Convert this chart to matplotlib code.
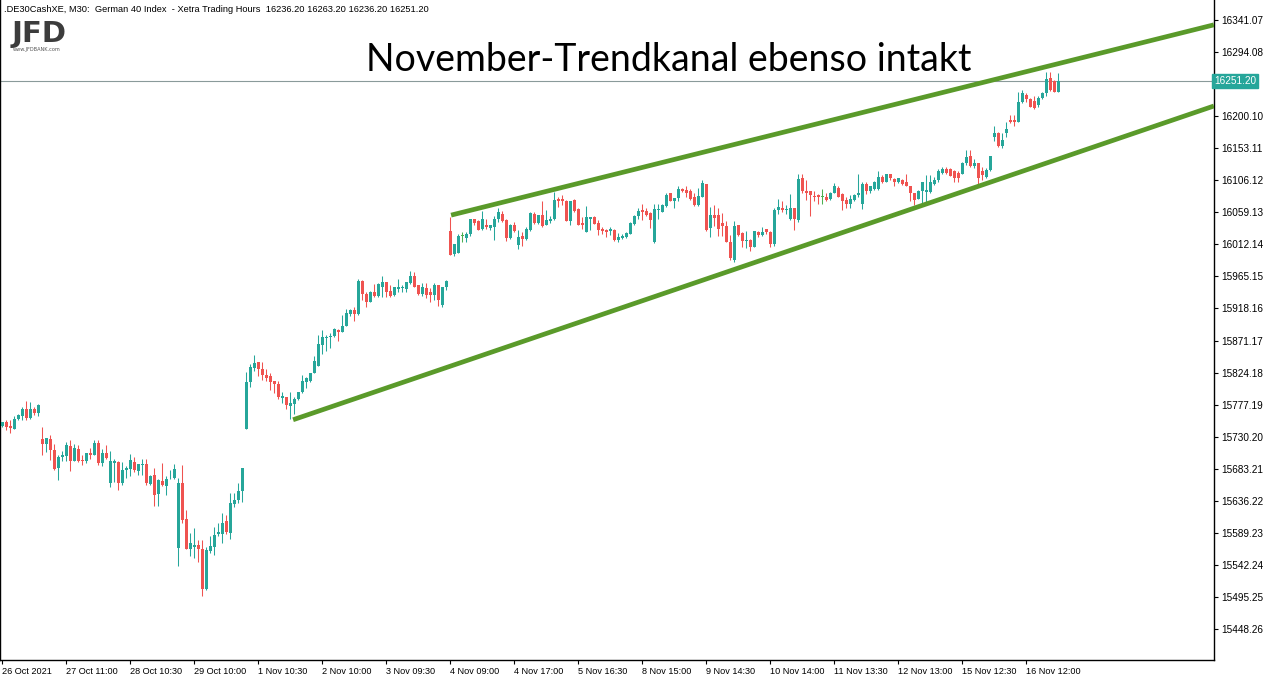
import matplotlib
matplotlib.use("Agg")
import matplotlib.pyplot as plt
import numpy as np

# M30 candles (open, high, low, close)
opens = [15746, 15752, 15746, 15741, 15756, 15760, 15771, 15758, 15771, 15765,
         15727, 15719, 15727, 15711, 15685, 15700, 15702, 15717, 15695, 15712,
         15696, 15694, 15706, 15703, 15721, 15692, 15706, 15663, 15691, 15693,
         15662, 15681, 15683, 15693, 15680, 15688, 15690, 15661, 15674, 15646,
         15665, 15658, 15669, 15669, 15567, 15662, 15610, 15565, 15568, 15571,
         15565, 15507, 15562, 15568, 15587, 15588, 15606, 15589, 15631, 15637,
         15650, 15742, 15810, 15831, 15839, 15829, 15821, 15819, 15812, 15807,
         15787, 15789, 15775, 15778, 15785, 15795, 15810, 15812, 15824, 15834,
         15865, 15875, 15876, 15878, 15887, 15884, 15892, 15910, 15916, 15910,
         15959, 15939, 15927, 15943, 15936, 15950, 15957, 15944, 15938, 15946,
         15948, 15947, 15956, 15966, 15953, 15940, 15948, 15943, 15938, 15953,
         15923, 15949, 16032, 15998, 16000, 16025, 16022, 16028, 16049, 16047,
         16034, 16041, 16036, 16037, 16049, 16057, 16048, 16021, 16041, 16011,
         16025, 16020, 16033, 16056, 16043, 16055, 16041, 16047, 16049, 16079,
         16079, 16076, 16047, 16077, 16064, 16044, 16031, 16049, 16052, 16044,
         16035, 16033, 16032, 16033, 16019, 16022, 16023, 16028, 16042, 16054,
         16063, 16061, 16058, 16016, 16063, 16060, 16068, 16088, 16076, 16080,
         16093, 16092, 16090, 16081, 16070, 16082, 16101, 16036, 16055, 16055,
         16043, 16039, 16016, 15989, 16040, 16029, 16017, 16018, 16009, 16031,
         16026, 16035, 16030, 16012, 16062, 16066, 16062, 16049, 16066, 16048,
         16110, 16091, 16090, 16083, 16084, 16082, 16081, 16078, 16088, 16095,
         16086, 16077, 16072, 16077, 16084, 16071, 16101, 16091, 16093, 16093,
         16111, 16104, 16115, 16108, 16103, 16107, 16103, 16097, 16087, 16079,
         16091, 16089, 16089, 16101, 16106, 16117, 16122, 16122, 16119, 16117,
         16116, 16131, 16141, 16127, 16131, 16120, 16111, 16121, 16169, 16176,
         16156, 16175, 16194, 16194, 16192, 16221, 16231, 16225, 16222, 16216,
         16226, 16234, 16256, 16252, 16236.2]
highs = [15752, 15754, 15755, 15760, 15764, 15774, 15782, 15781, 15773, 15778,
         15744, 15728, 15733, 15720, 15703, 15709, 15723, 15725, 15719, 15718,
         15703, 15706, 15713, 15725, 15726, 15712, 15718, 15709, 15697, 15695,
         15693, 15687, 15705, 15701, 15690, 15697, 15697, 15674, 15684, 15668,
         15692, 15673, 15681, 15690, 15670, 15689, 15623, 15589, 15596, 15579,
         15579, 15569, 15584, 15598, 15603, 15618, 15615, 15647, 15647, 15662,
         15685, 15825, 15837, 15850, 15840, 15839, 15829, 15824, 15812, 15812,
         15795, 15789, 15795, 15789, 15796, 15821, 15818, 15824, 15848, 15879,
         15887, 15879, 15882, 15889, 15888, 15909, 15917, 15918, 15920, 15962,
         15960, 15943, 15944, 15954, 15955, 15966, 15957, 15953, 15949, 15962,
         15953, 15957, 15973, 15971, 15953, 15956, 15956, 15948, 15955, 15953,
         15950, 15960, 16052, 16013, 16027, 16030, 16030, 16050, 16050, 16048,
         16061, 16050, 16041, 16053, 16065, 16061, 16049, 16042, 16045, 16033,
         16031, 16037, 16059, 16059, 16055, 16075, 16063, 16053, 16089, 16082,
         16085, 16077, 16076, 16078, 16065, 16052, 16068, 16052, 16053, 16048,
         16038, 16034, 16037, 16034, 16029, 16027, 16031, 16045, 16055, 16066,
         16071, 16065, 16060, 16072, 16072, 16072, 16088, 16088, 16080, 16097,
         16095, 16097, 16093, 16087, 16095, 16106, 16101, 16067, 16070, 16065,
         16058, 16046, 16026, 16046, 16041, 16031, 16032, 16020, 16032, 16032,
         16038, 16035, 16032, 16065, 16078, 16075, 16070, 16086, 16066, 16116,
         16116, 16107, 16090, 16090, 16086, 16093, 16088, 16089, 16102, 16097,
         16087, 16081, 16085, 16086, 16116, 16104, 16103, 16098, 16105, 16120,
         16114, 16116, 16116, 16109, 16110, 16108, 16115, 16098, 16088, 16092,
         16103, 16114, 16114, 16111, 16122, 16125, 16126, 16124, 16121, 16119,
         16133, 16150, 16150, 16138, 16132, 16126, 16124, 16142, 16185, 16177,
         16176, 16191, 16202, 16202, 16235, 16239, 16234, 16226, 16229, 16229,
         16236, 16265, 16265, 16253, 16263.2]
lows = [15744, 15740, 15736, 15741, 15755, 15754, 15755, 15756, 15762, 15761,
        15703, 15708, 15696, 15681, 15667, 15694, 15694, 15680, 15694, 15693,
        15689, 15692, 15698, 15703, 15689, 15687, 15697, 15657, 15664, 15652,
        15659, 15669, 15673, 15678, 15674, 15674, 15659, 15659, 15628, 15628,
        15658, 15644, 15668, 15668, 15541, 15604, 15565, 15556, 15552, 15547,
        15496, 15505, 15559, 15557, 15584, 15574, 15587, 15580, 15627, 15633,
        15635, 15741, 15803, 15826, 15819, 15813, 15812, 15798, 15794, 15785,
        15780, 15771, 15756, 15764, 15784, 15794, 15802, 15811, 15823, 15834,
        15851, 15856, 15860, 15877, 15871, 15883, 15892, 15907, 15900, 15908,
        15931, 15921, 15927, 15935, 15935, 15935, 15935, 15935, 15937, 15943,
        15943, 15943, 15954, 15950, 15938, 15937, 15934, 15928, 15931, 15922,
        15921, 15945, 15997, 15995, 15999, 16015, 16015, 16025, 16040, 16033,
        16033, 16034, 16033, 16018, 16045, 16045, 16017, 16020, 16031, 16005,
        16010, 16019, 16032, 16042, 16042, 16037, 16041, 16044, 16048, 16067,
        16070, 16047, 16040, 16060, 16041, 16035, 16030, 16033, 16042, 16026,
        16028, 16023, 16026, 16017, 16015, 16020, 16022, 16027, 16041, 16049,
        16048, 16054, 16036, 16014, 16050, 16059, 16067, 16075, 16065, 16076,
        16089, 16081, 16077, 16068, 16069, 16081, 16032, 16023, 16039, 16025,
        16025, 16015, 15989, 15986, 16024, 16009, 16007, 16002, 16008, 16023,
        16025, 16028, 16008, 16010, 16057, 16060, 16057, 16048, 16033, 16045,
        16087, 16077, 16053, 16076, 16071, 16072, 16075, 16077, 16087, 16081,
        16063, 16065, 16065, 16076, 16082, 16064, 16086, 16088, 16092, 16092,
        16102, 16103, 16107, 16098, 16102, 16099, 16098, 16075, 16070, 16078,
        16072, 16072, 16088, 16099, 16104, 16116, 16116, 16112, 16104, 16104,
        16115, 16129, 16126, 16124, 16099, 16107, 16110, 16120, 16163, 16155,
        16154, 16169, 16190, 16185, 16191, 16220, 16221, 16213, 16211, 16214,
        16225, 16229, 16237, 16236, 16236.2]
closes = [15751, 15745, 15743, 15756, 15762, 15771, 15758, 15771, 15765, 15777,
          15719, 15728, 15711, 15683, 15700, 15703, 15718, 15695, 15713, 15694,
          15694, 15706, 15704, 15721, 15691, 15707, 15699, 15694, 15695, 15663,
          15681, 15684, 15696, 15681, 15690, 15690, 15662, 15673, 15645, 15667,
          15659, 15668, 15670, 15683, 15662, 15608, 15566, 15574, 15572, 15565,
          15507, 15564, 15570, 15586, 15591, 15604, 15591, 15633, 15637, 15650,
          15685, 15810, 15833, 15838, 15830, 15820, 15816, 15811, 15807, 15789,
          15790, 15777, 15780, 15785, 15795, 15812, 15816, 15823, 15841, 15866,
          15877, 15877, 15878, 15888, 15884, 15892, 15911, 15916, 15910, 15959,
          15939, 15928, 15943, 15936, 15954, 15957, 15943, 15936, 15949, 15949,
          15949, 15957, 15966, 15950, 15940, 15949, 15938, 15938, 15953, 15931,
          15949, 15959, 15997, 16013, 16025, 16025, 16028, 16049, 16044, 16033,
          16050, 16037, 16040, 16050, 16059, 16046, 16021, 16041, 16032, 16023,
          16020, 16035, 16058, 16043, 16055, 16039, 16048, 16050, 16077, 16075,
          16075, 16047, 16076, 16061, 16041, 16041, 16052, 16052, 16042, 16033,
          16032, 16031, 16035, 16019, 16023, 16025, 16029, 16044, 16054, 16061,
          16059, 16055, 16048, 16064, 16064, 16070, 16085, 16076, 16080, 16093,
          16090, 16087, 16079, 16070, 16083, 16102, 16033, 16055, 16051, 16035,
          16039, 16016, 15992, 16039, 16026, 16017, 16019, 16009, 16032, 16026,
          16031, 16031, 16012, 16063, 16067, 16063, 16064, 16066, 16049, 16108,
          16091, 16088, 16084, 16082, 16081, 16082, 16077, 16088, 16097, 16082,
          16075, 16072, 16078, 16084, 16087, 16101, 16091, 16097, 16104, 16111,
          16103, 16115, 16109, 16103, 16109, 16101, 16098, 16087, 16077, 16091,
          16103, 16092, 16103, 16107, 16120, 16122, 16117, 16113, 16110, 16110,
          16131, 16140, 16127, 16131, 16109, 16114, 16121, 16141, 16176, 16156,
          16165, 16181, 16192, 16192, 16221, 16234, 16225, 16214, 16212, 16226,
          16234, 16254, 16238, 16236, 16251.2]

price_ticks = [16341.07, 16294.08, 16247.09, 16200.10, 16153.11, 16106.12,
               16059.13, 16012.14, 15965.15, 15918.16, 15871.17, 15824.18,
               15777.19, 15730.20, 15683.21, 15636.22, 15589.23, 15542.24,
               15495.25, 15448.26]
date_labels = ["26 Oct 2021", "27 Oct 11:00", "28 Oct 10:30", "29 Oct 10:00",
               "1 Nov 10:30", "2 Nov 10:00", "3 Nov 09:30", "4 Nov 09:00",
               "4 Nov 17:00", "5 Nov 16:30", "8 Nov 15:00", "9 Nov 14:30",
               "10 Nov 14:00", "11 Nov 13:30", "12 Nov 13:00", "15 Nov 12:30",
               "16 Nov 12:00"]
date_label_bars = [0, 16, 32, 48, 64, 80, 96, 112, 128, 144, 160, 176, 192,
                   208, 224, 240, 256]

# trend channel anchors (bar index, price)
upper_bars = [112.2, 302.9]
upper_prices = [16055, 16334]
lower_bars = [72.7, 302.9]
lower_prices = [15755, 16215]

last_price = 16251.20
header = (".DE30CashXE, M30:  German 40 Index  - Xetra Trading Hours  "
          "16236.20 16263.20 16236.20 16251.20")
title = "November-Trendkanal ebenso intakt"

UP = "#26a69a"
DOWN = "#ef5350"
DOJI = "#4caf50"
TREND = "#5a9a2a"

W, H = 1272, 681
fig = plt.figure(figsize=(W / 100, H / 100), dpi=100)
ax = fig.add_axes([0, 1 - 660 / H, 1214 / W, 660 / H])

o = np.array(opens, dtype=float)
c = np.array(closes, dtype=float)
x = np.arange(len(c))
cols = np.where(c > o, UP, np.where(c < o, DOWN, DOJI))

ax.vlines(x, lows, highs, colors=cols, linewidth=0.75, zorder=2)
ax.bar(x, np.maximum(np.abs(c - o), 1.2), bottom=np.minimum(o, c),
       width=0.72, color=cols, linewidth=0, zorder=3)

ax.axhline(last_price, color="#8a9a9a", linewidth=0.8, zorder=1)

ax.plot(upper_bars, upper_prices, color=TREND, linewidth=3.4,
        solid_capstyle="butt", zorder=4)
ax.plot(lower_bars, lower_prices, color=TREND, linewidth=3.4,
        solid_capstyle="butt", zorder=4)

ax.set_xlim(-0.575, 302.925)
ax.set_ylim(15402.8, 16370.4)

for s in ["left", "right", "bottom"]:
    ax.spines[s].set_color("black")
    ax.spines[s].set_linewidth(1)
ax.spines["top"].set_visible(False)

ax.yaxis.tick_right()
ax.set_yticks(price_ticks)
ax.set_yticklabels(["" if abs(p - 16247.09) < 0.01 else f"{p:.2f}"
                    for p in price_ticks])
ax.set_xticks(date_label_bars)
ax.set_xticklabels(date_labels, ha="left")
ax.tick_params(axis="y", direction="out", length=3, width=0.8,
               labelsize=7.2, pad=2, colors="black")
ax.tick_params(axis="x", direction="out", length=3, width=0.8,
               labelsize=6.6, pad=2, colors="black")
for lab in ax.get_xticklabels() + ax.get_yticklabels():
    lab.set_family("Liberation Sans")

ax.text(1.0, last_price, f"{last_price:.2f}", transform=ax.get_yaxis_transform(),
        ha="left", va="center", fontsize=7.2, family="Liberation Sans",
        color="white", clip_on=False, zorder=10,
        bbox=dict(boxstyle="square,pad=0.2", facecolor=UP, edgecolor=UP))

fig.text(4 / W, 1 - 10 / H, header, fontsize=6.7, family="Liberation Sans",
         va="center", ha="left")
fig.text(669 / W, 1 - 60 / H, title, fontsize=27, family="Lato",
         va="center", ha="center", color="black")

fig.text(12 / W, 1 - 34 / H, "JFD", fontsize=21, fontweight="bold",
         family="DejaVu Sans", color="#3c3c3c", va="center", ha="left")
fig.text(13 / W, 1 - 50 / H, "www.JFDBANK.com", fontsize=3.6,
         family="DejaVu Sans", color="#555555", va="center", ha="left")

fig.savefig("out.png", dpi=100)
